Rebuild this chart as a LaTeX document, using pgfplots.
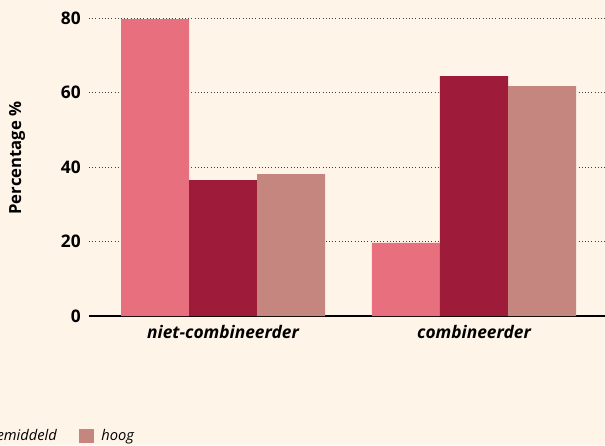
\documentclass[border=0pt]{standalone}
\usepackage{fontspec}
\setmainfont{Open Sans}
\usepackage{pgfplots}
\pgfplotsset{compat=1.18}
\definecolor{bg}{HTML}{FEF4E8}
\definecolor{laag}{HTML}{E8707E}
\definecolor{gem}{HTML}{9E1B3A}
\definecolor{hoog}{HTML}{C68680}
\begin{document}
\begin{tikzpicture}
\fill[bg] (-66.75pt,-96.75pt) rectangle (387pt,237pt);
\begin{axis}[
    scale only axis,
    width=387pt, height=223.5pt,
    ybar=0pt, bar width=51pt,
    xmin=-0.534, xmax=1.522,
    ymin=0, ymax=80,
    ytick={0,20,40,60,80},
    xtick={0,1},
    xticklabels={niet-combineerder,combineerder},
    axis x line*=bottom,
    axis y line*=left,
    x axis line style={line width=1.5pt,-},
    y axis line style={draw=none},
    major tick length=0pt,
    ymajorgrids,
    grid style={dotted, line width=0.6pt, black!75},
    /pgf/number format/assume math mode=true,
    yticklabel style={font=\fontsize{13}{15}\selectfont\bfseries, inner sep=0pt, xshift=-6pt},
    xticklabel style={font=\fontsize{13}{15}\selectfont\bfseries\itshape, inner sep=0pt, yshift=-7pt},
    ylabel={Percentage \%},
    ylabel style={font=\fontsize{12.5}{15}\selectfont\bfseries, at={(rel axis cs:-0.1395,0.53)}, anchor=center},
    legend columns=3,
    legend image code/.code={\fill[#1] (0pt,-5.6pt) rectangle (11.25pt,5.6pt);},
    legend style={draw=none, fill=none, inner sep=0pt, outer sep=0pt,
      at={(rel axis cs:0.0872,-0.4027)}, anchor=east,
      font=\fontsize{11}{13}\selectfont\itshape,
      nodes={inner sep=0pt},
      /tikz/every odd column/.style={column sep=5.25pt},
      /tikz/every even column/.style={column sep=17pt}},
]
\addplot[fill=laag, draw=none] coordinates {(0,79.7) (1,19.6)};
\addplot[fill=gem, draw=none] coordinates {(0,36.5) (1,64.4)};
\addplot[fill=hoog, draw=none] coordinates {(0,38.1) (1,61.7)};
\legend{laag,gemiddeld,hoog}
\end{axis}
\pgfresetboundingbox
\path[use as bounding box] (-66.75pt,-96.75pt) rectangle (387pt,237pt);
\end{tikzpicture}
\end{document}
